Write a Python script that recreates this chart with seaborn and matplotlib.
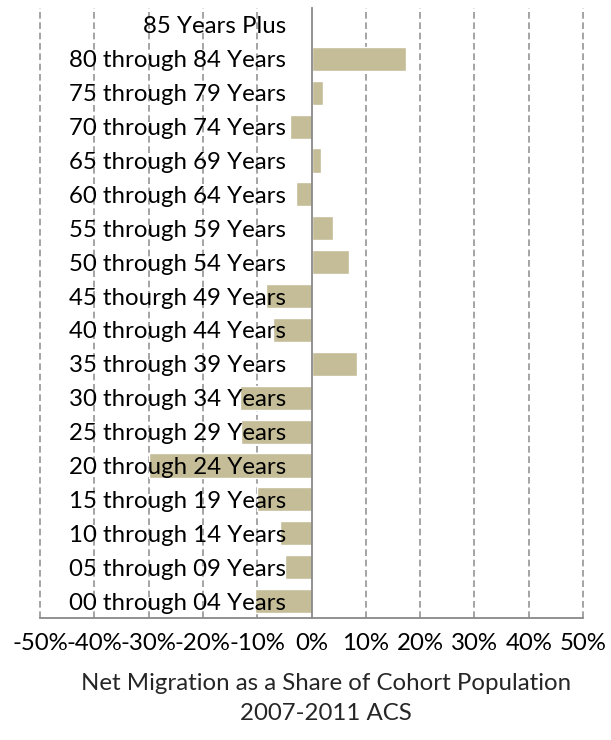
import matplotlib
matplotlib.use("Agg")
import numpy as np
import pandas as pd
import matplotlib.pyplot as plt
import seaborn as sns
from matplotlib.ticker import PercentFormatter

# Age cohorts, top to bottom as drawn
cohorts = [
    "85 Years Plus", "80 through 84 Years", "75 through 79 Years",
    "70 through 74 Years", "65 through 69 Years", "60 through 64 Years",
    "55 through 59 Years", "50 through 54 Years", "45 thourgh 49 Years",
    "40 through 44 Years", "35 through 39 Years", "30 through 34 Years",
    "25 through 29 Years", "20 through 24 Years", "15 through 19 Years",
    "10 through 14 Years", "05 through 09 Years", "00 through 04 Years",
]
# Net migration share (fraction of cohort population)
net_share = [
    0.0, 0.174, 0.021, -0.039, 0.018, -0.029, 0.039, 0.069, -0.084,
    -0.071, 0.084, -0.131, -0.129, -0.300, -0.101, -0.058, -0.049, -0.104,
]
x_ticks = [-0.5, -0.4, -0.3, -0.2, -0.1, 0.0, 0.1, 0.2, 0.3, 0.4, 0.5]

df = pd.DataFrame({"cohort": cohorts, "share": net_share})

sns.set_style("white")
plt.rcParams["font.family"] = ["Lato", "DejaVu Sans"]
plt.rcParams["axes.unicode_minus"] = False

FS = 17.3

fig = plt.figure(figsize=(6.11, 7.4), dpi=100)
ax = fig.add_axes([40 / 611, (740 - 618) / 740, 543 / 611, 610 / 740])

sns.barplot(data=df, x="share", y="cohort", order=cohorts, color="#C4BD97",
            saturation=1, width=0.71, orient="h", ax=ax, zorder=1)

# dashed vertical gridlines behind the bars
for t in x_ticks:
    if t != 0:
        ax.axvline(t, color="#959595", lw=1.2, ls=(0, (4, 2.2)), zorder=0,
                   clip_on=False)

ax.set_xlim(-0.5, 0.5)
ax.set_ylim(len(cohorts) - 0.5, -0.5)
ax.set_xticks(x_ticks)
ax.xaxis.set_major_formatter(PercentFormatter(1.0, decimals=0))
ax.set_axisbelow(False)

for s in ["top", "right"]:
    ax.spines[s].set_visible(False)
ax.spines["left"].set_position(("data", 0))
ax.spines["left"].set_color("#888888")
ax.spines["left"].set_linewidth(1.3)
ax.spines["bottom"].set_color("#888888")
ax.spines["bottom"].set_linewidth(1.3)

ax.tick_params(axis="y", length=0, pad=18.5, labelsize=FS, labelcolor="black")
ax.tick_params(axis="x", direction="inout", length=11, width=1.3,
               color="#888888", pad=5, labelsize=FS, labelcolor="black")
for lab in ax.get_yticklabels():
    lab.set_zorder(5)

ax.set_xlabel("")
ax.set_ylabel("")

fig.text(326 / 611, 1 - 683 / 740, "Net Migration as a Share of Cohort Population",
         ha="center", va="center", fontsize=FS)
fig.text(326 / 611, 1 - 714 / 740, "2007-2011 ACS",
         ha="center", va="center", fontsize=FS)

fig.savefig("out.png", dpi=100)
